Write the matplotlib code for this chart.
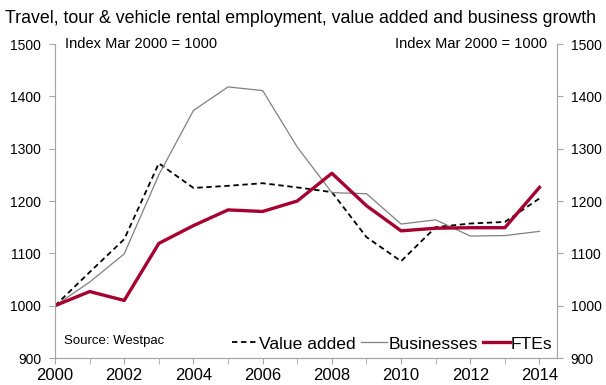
import matplotlib
matplotlib.use("Agg")
import matplotlib.pyplot as plt
import numpy as np

plt.rcParams["font.family"] = ["Liberation Sans", "DejaVu Sans"]

# ----------------------------
# Data (index, Mar 2000 = 1000)
# ----------------------------

years = list(range(2000, 2015))

value_added = [1000, 1064, 1127, 1272, 1225, 1229, 1234, 1226, 1217,
               1131, 1085, 1150, 1157, 1160, 1205]
businesses = [1000, 1045, 1099, 1250, 1373, 1418, 1411, 1303, 1216,
              1214, 1156, 1164, 1133, 1134, 1142]
ftes = [1000, 1027, 1010, 1119, 1153, 1183, 1180, 1200, 1253,
        1191, 1143, 1148, 1149, 1149, 1226]

y_ticks = [900, 1000, 1100, 1200, 1300, 1400, 1500]
x_labels = list(range(2000, 2015, 2))

red = "#A50030"
spine_col = "#A6A6A6"

# ----------------------------
# Figure
# ----------------------------

fig = plt.figure(figsize=(6.06, 3.85), dpi=100)
ax = fig.add_axes([0.0908, 0.0701, 0.828, 0.8156])

ax.plot(years, value_added, color="black", lw=1.3, ls=(0, (3, 2)), label="Value added")
ax.plot(years, businesses, color="#808080", lw=0.9, label="Businesses")
ax.plot(years, ftes, color=red, lw=2.4, label="FTEs")

ax.set_xlim(2000, 2014.5)
ax.set_ylim(900, 1500)
ax.set_yticks(y_ticks)
ax.set_xticks(x_labels)
ax.set_xticks(years, minor=True)
ax.set_xticklabels([str(y) for y in x_labels], fontsize=12)
ax.tick_params(axis="y", labelsize=10, direction="out", length=4, color=spine_col, pad=6)
ax.tick_params(axis="x", which="both", direction="out", length=4, color=spine_col, pad=3)

for side in ["left", "right", "bottom"]:
    ax.spines[side].set_color(spine_col)
ax.spines["top"].set_visible(False)

ax2 = ax.twinx()
ax2.set_ylim(900, 1500)
ax2.set_yticks(y_ticks)
ax2.tick_params(axis="y", labelsize=10, direction="out", length=4, color=spine_col, pad=6)
for side in ["left", "right", "bottom"]:
    ax2.spines[side].set_color(spine_col)
ax2.spines["top"].set_visible(False)

ax.text(0.02, 1.0, "Index Mar 2000 = 1000", transform=ax.transAxes,
        ha="left", va="center", fontsize=10.5)
ax.text(0.98, 1.0, "Index Mar 2000 = 1000", transform=ax.transAxes,
        ha="right", va="center", fontsize=10.5)
ax.text(0.017, 0.035, "Source: Westpac", transform=ax.transAxes,
        ha="left", va="bottom", fontsize=9.5)

ax.legend(loc="lower right", bbox_to_anchor=(0.997, 0.012), ncol=3, frameon=False,
          fontsize=12.6, handlelength=1.5, handletextpad=0.08, columnspacing=0.3,
          borderaxespad=0.0, borderpad=0.15)

fig.text(0.008, 0.975, "Travel, tour & vehicle rental employment, value added and business growth",
         ha="left", va="top", fontsize=12.8)

fig.savefig("out.png", dpi=100)
